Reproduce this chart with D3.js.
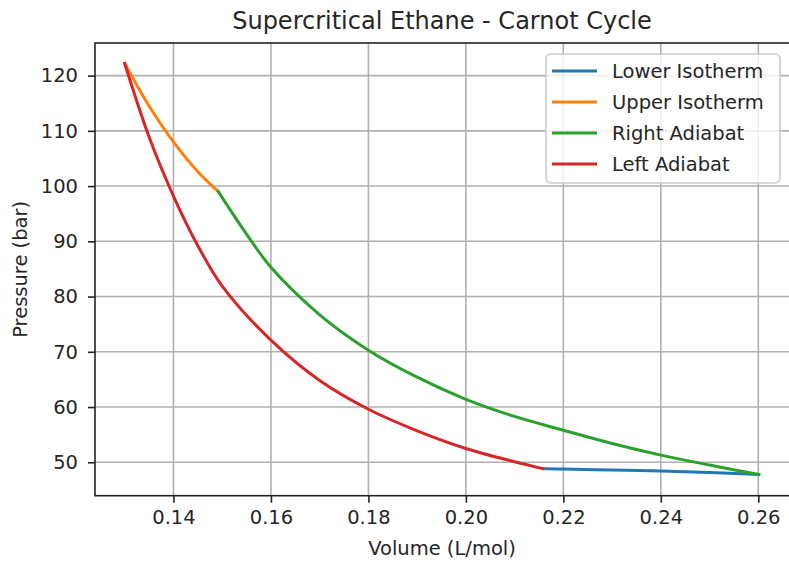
<!DOCTYPE html>
<html>
<head>
<meta charset="utf-8">
<script src="https://cdn.jsdelivr.net/npm/d3@7"></script>
<style>
  body { margin: 0; background: #fff; }
  svg { display: block; font-family: "DejaVu Sans", sans-serif; }
</style>
</head>
<body>
<div id="chart"></div>
<script>
// values, [volume L/mol, pressure bar]
const lowerIsotherm = [[0.2158, 48.85], [0.22, 48.78], [0.23, 48.6], [0.24, 48.42], [0.25, 48.15], [0.2601, 47.8]]
const upperIsotherm = [[0.1300, 122.2], [0.135, 114.5], [0.14, 108.0], [0.145, 102.6], [0.1492, 99.0]]
const rightAdiabat = [[0.1492, 99.0], [0.155, 91.3], [0.16, 85.3], [0.17, 76.7], [0.18, 70.3], [0.19, 65.4],
                      [0.20, 61.4], [0.21, 58.3], [0.22, 55.8], [0.23, 53.4], [0.24, 51.3], [0.25, 49.5],
                      [0.2601, 47.8]]
const leftAdiabat = [[0.1300, 122.2], [0.135, 108.9], [0.14, 98.2], [0.145, 89.2], [0.15, 81.9], [0.16, 72.1],
                     [0.17, 64.8], [0.18, 59.6], [0.19, 55.7], [0.20, 52.5], [0.21, 50.1], [0.2158, 48.85]]

const seriesNames = ['Lower Isotherm', 'Upper Isotherm', 'Right Adiabat', 'Left Adiabat']
const seriesData = [lowerIsotherm, upperIsotherm, rightAdiabat, leftAdiabat]
const xTicks = [0.14, 0.16, 0.18, 0.20, 0.22, 0.24, 0.26]
const yTicks = [50, 60, 70, 80, 90, 100, 110, 120]

const COLORS = ['#1f77b4', '#ff7f0e', '#2ca02c', '#d62728']
const W = 789, H = 563
const LEFT = 95, RIGHT = 789, TOP = 43, BOTTOM = 495.7

const x = d3.scaleLinear().domain([0.1239, 0.2663]).range([LEFT, RIGHT])
const y = d3.scaleLinear().domain([43.95, 125.9]).range([BOTTOM, TOP])

const svg = d3.select('#chart').append('svg')
    .attr('width', W)
    .attr('height', H)

// grid
const grid = svg.append('g')
grid.selectAll('line.gx')
    .data(xTicks)
    .join('line')
        .attr('class', 'gx')
        .attr('x1', d => x(d)).attr('x2', d => x(d))
        .attr('y1', TOP).attr('y2', BOTTOM)
        .attr('stroke', '#b0b0b0')
        .attr('stroke-width', 1.6)
grid.selectAll('line.gy')
    .data(yTicks)
    .join('line')
        .attr('class', 'gy')
        .attr('x1', LEFT).attr('x2', RIGHT)
        .attr('y1', d => y(d)).attr('y2', d => y(d))
        .attr('stroke', '#b0b0b0')
        .attr('stroke-width', 1.6)

// curves
const line = d3.line()
    .x(d => x(d[0]))
    .y(d => y(d[1]))
    .curve(d3.curveCatmullRom.alpha(0.5))

svg.append('g').selectAll('path')
    .data(seriesData)
    .join('path')
        .attr('d', line)
        .attr('fill', 'none')
        .attr('stroke', (d, i) => COLORS[i])
        .attr('stroke-width', 3)
        .attr('stroke-linecap', 'square')

// axes
const xAxis = svg.append('g')
    .attr('transform', `translate(0,${BOTTOM})`)
    .call(d3.axisBottom(x).tickValues(xTicks).tickFormat(d3.format('.2f')).tickSize(7).tickPadding(7))
const yAxis = svg.append('g')
    .attr('transform', `translate(${LEFT},0)`)
    .call(d3.axisLeft(y).tickValues(yTicks).tickSize(7).tickPadding(10))

for (const ax of [xAxis, yAxis]) {
    ax.select('.domain').remove()
    ax.selectAll('.tick line').attr('stroke', '#222').attr('stroke-width', 1.6)
    ax.selectAll('.tick text')
        .attr('fill', '#262626')
        .style('font-family', '"DejaVu Sans", sans-serif')
        .style('font-size', '19.5px')
}

// frame
svg.append('rect')
    .attr('x', LEFT).attr('y', TOP)
    .attr('width', RIGHT - LEFT + 2).attr('height', BOTTOM - TOP)
    .attr('fill', 'none')
    .attr('stroke', '#222')
    .attr('stroke-width', 1.6)

// title and labels
svg.append('text')
    .attr('x', (LEFT + RIGHT) / 2).attr('y', 29)
    .attr('text-anchor', 'middle')
    .attr('font-size', 24)
    .attr('fill', '#262626')
    .text('Supercritical Ethane - Carnot Cycle')

svg.append('text')
    .attr('x', (LEFT + RIGHT) / 2).attr('y', 555)
    .attr('text-anchor', 'middle')
    .attr('font-size', 19.5)
    .attr('fill', '#262626')
    .text('Volume (L/mol)')

svg.append('text')
    .attr('transform', `translate(27,${(TOP + BOTTOM) / 2}) rotate(-90)`)
    .attr('text-anchor', 'middle')
    .attr('font-size', 19.5)
    .attr('fill', '#262626')
    .text('Pressure (bar)')

// legend
const legend = svg.append('g').attr('transform', 'translate(546,54)')
legend.append('rect')
    .attr('width', 234).attr('height', 129)
    .attr('rx', 5)
    .attr('fill', 'white').attr('fill-opacity', 0.8)
    .attr('stroke', '#cccccc')
    .attr('stroke-width', 1.6)

const items = legend.selectAll('g.item')
    .data(seriesNames)
    .join('g')
        .attr('class', 'item')
        .attr('transform', (d, i) => `translate(0,${17 + i * 31})`)
items.append('line')
    .attr('x1', 6).attr('x2', 51)
    .attr('stroke', (d, i) => COLORS[i])
    .attr('stroke-width', 3)
items.append('text')
    .attr('x', 66).attr('y', 7)
    .attr('font-size', 19.5)
    .attr('fill', '#262626')
    .text(d => d)
</script>
</body>
</html>
